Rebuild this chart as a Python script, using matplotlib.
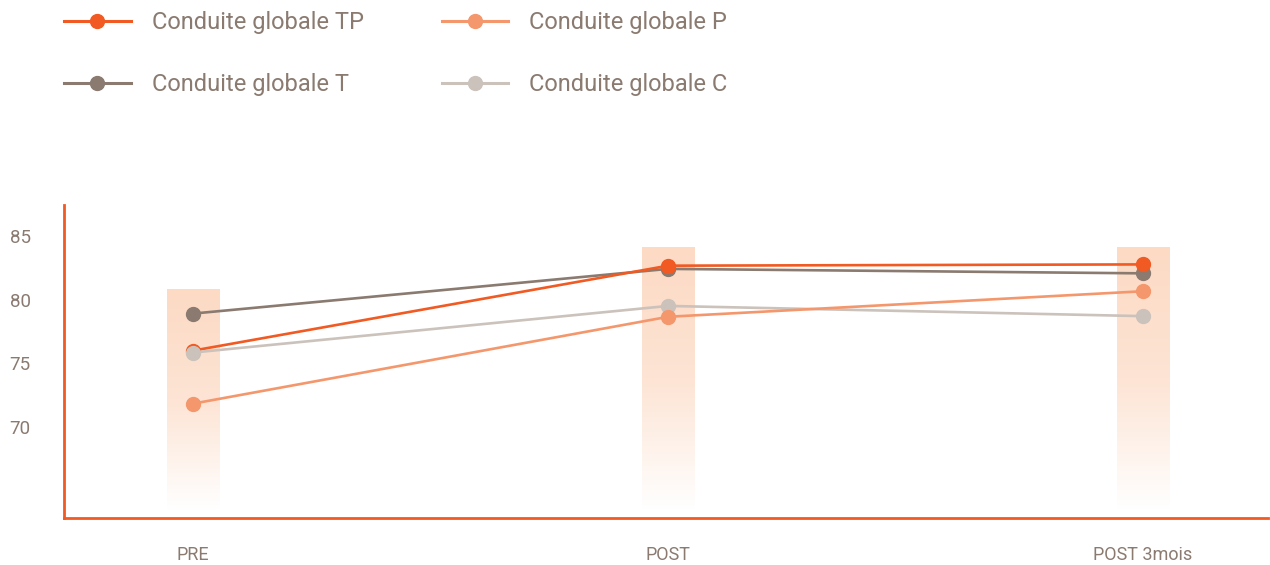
import numpy as np
import matplotlib
matplotlib.use("Agg")
import matplotlib.pyplot as plt
from matplotlib import font_manager
from matplotlib.colors import LinearSegmentedColormap
from matplotlib.lines import Line2D

available = {f.name for f in font_manager.fontManager.ttflist}
fam = 'Liberation Sans Narrow' if 'Liberation Sans Narrow' in available else 'Roboto'
plt.rcParams['font.family'] = [fam, 'DejaVu Sans']

categories = ['PRE', 'POST', 'POST 3mois']
series_names = ['Conduite globale TP', 'Conduite globale T', 'Conduite globale P', 'Conduite globale C']
tp_values = [76.0, 82.65, 82.75]
t_values = [78.9, 82.4, 82.05]
p_values = [71.85, 78.65, 80.65]
c_values = [75.85, 79.5, 78.7]
band_values = [80.8, 84.1, 84.1]
yticks = [70, 75, 80, 85]

colors = {
    'Conduite globale TP': '#f15a22',
    'Conduite globale T': '#8a7a70',
    'Conduite globale P': '#f4976c',
    'Conduite globale C': '#cbc2bc',
}
text_color = '#8a7a70'
axis_color = '#f15a22'

fig = plt.figure(figsize=(12.7, 5.65), dpi=100)
ax = fig.add_axes([64/1270, 1 - 518/565, (1268-64)/1270, (518-205)/565])

x = np.arange(len(categories))
ymin, ymax = 62.9, 87.4
ax.set_xlim(-0.2716, 2.263)
ax.set_ylim(ymin, ymax)

# gradient bands
bars = ax.bar(x, [b - ymin for b in band_values], bottom=ymin, width=0.11,
              color='none', edgecolor='none', zorder=1)
cmap = LinearSegmentedColormap.from_list('band', ['#ffffff', '#fde4d4', '#fcdac4'])
grad = np.linspace(0, 1, 256).reshape(-1, 1)
for bar in bars:
    x0 = bar.get_x()
    w = bar.get_width()
    y0 = bar.get_y() + 0.6
    y1 = bar.get_y() + bar.get_height()
    im = ax.imshow(grad, extent=[x0, x0 + w, y0, y1], origin='lower',
                   cmap=cmap, aspect='auto', zorder=1)
    im.set_clip_path(bar)
ax.set_xlim(-0.2716, 2.263)
ax.set_ylim(ymin, ymax)

data = {
    'Conduite globale TP': tp_values,
    'Conduite globale T': t_values,
    'Conduite globale P': p_values,
    'Conduite globale C': c_values,
}
draw_order = ['Conduite globale T', 'Conduite globale TP', 'Conduite globale C', 'Conduite globale P']
for z, name in enumerate(draw_order):
    ax.plot(x, data[name], color=colors[name], lw=1.9, marker='o', markersize=10,
            zorder=3 + z, solid_capstyle='round')

for s in ['top', 'right']:
    ax.spines[s].set_visible(False)
for s in ['left', 'bottom']:
    ax.spines[s].set_color(axis_color)
    ax.spines[s].set_linewidth(2)

ax.set_yticks(yticks)
ax.set_yticklabels([str(v) for v in yticks])
ax.set_xticks(x)
ax.set_xticklabels(categories)
ax.tick_params(axis='y', length=0, pad=24, labelsize=13.5, labelcolor=text_color)
ax.tick_params(axis='x', length=0, pad=20.5, labelsize=13, labelcolor=text_color)

handles = [Line2D([0], [0], color=colors[n], lw=2.2, marker='o', markersize=10) for n in series_names]
fig.legend(handles, series_names, ncol=2, loc='upper left', bbox_to_anchor=(0.034, 1.018),
           frameon=False, fontsize=17, labelcolor=text_color, handlelength=2.8,
           handletextpad=0.9, columnspacing=3.3, labelspacing=1.65)

fig.savefig('out.png', dpi=100)
